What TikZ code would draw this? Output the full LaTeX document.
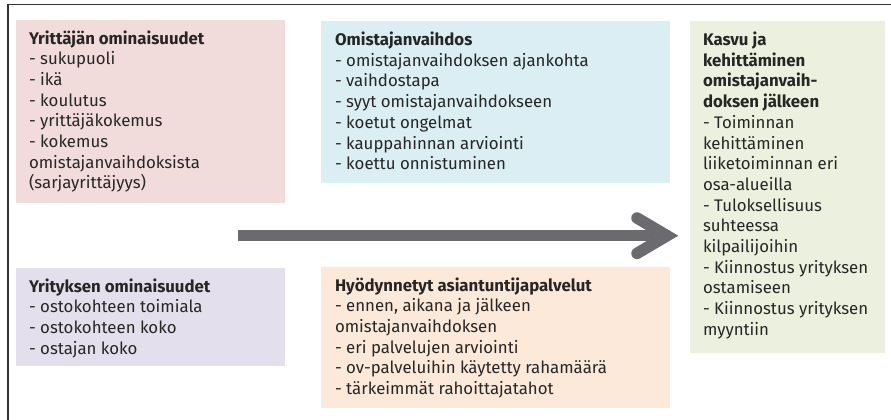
\documentclass[tikz,border=0pt]{standalone}
\usepackage{fontspec}
\setmainfont{Fira Sans}
\definecolor{cpink}{HTML}{F2DCDB}
\definecolor{cblue}{HTML}{DAEEF3}
\definecolor{cgreen}{HTML}{EBF1DE}
\definecolor{cpurple}{HTML}{E4DFEC}
\definecolor{corange}{HTML}{FDE9D9}
\definecolor{carrow}{HTML}{6B6B6F}
\definecolor{ctext}{HTML}{262626}
\definecolor{cframe}{HTML}{333333}
\tikzset{
  box/.style={draw=none, anchor=north west, inner sep=0pt, outer sep=0pt},
  txt/.style={anchor=base west, inner sep=0pt, outer sep=0pt, align=left, text=ctext,
    font=\fontsize{16.8}{20.7}\selectfont},
}
\begin{document}
\begin{tikzpicture}[x=1pt, y=-1pt]
\useasboundingbox (0,0) rectangle (891,420);
% frame
\draw[cframe, line width=1.5pt] (8,420) -- (8,4.5) -- (891,4.5);
% boxes
\node[box, fill=cpink, minimum width=269pt, minimum height=183pt] (pinkbox) at (16,20) {};
\node[box, fill=cblue, minimum width=349pt, minimum height=162pt] (bluebox) at (321,21) {};
\node[box, fill=cgreen, minimum width=195pt, minimum height=332pt] (greenbox) at (690,21) {};
\node[box, fill=cpurple, minimum width=269pt, minimum height=98pt] (purplebox) at (16,268) {};
\node[box, fill=corange, minimum width=349pt, minimum height=141pt] (orangebox) at (321,267) {};
% texts (anchored at the baseline of their last line)
\node[txt] (pinktxt) at (29,188.9) {\textbf{Yrittäjän ominaisuudet}\\- sukupuoli\\- ikä\\- koulutus\\- yrittäjäkokemus\\- kokemus\\omistajanvaihdoksista\\(sarjayrittäjyys)};
\node[txt] (bluetxt) at (335,169.7) {\textbf{Omistajanvaihdos}\\- omistajanvaihdoksen ajankohta\\- vaihdostapa\\- syyt omistajanvaihdokseen\\- koetut ongelmat\\- kauppahinnan arviointi\\- koettu onnistuminen};
\node[txt] (greentxt) at (703,335.3) {\textbf{Kasvu ja}\\\textbf{kehittäminen}\\\textbf{omistajanvaih-}\\\textbf{doksen jälkeen}\\- Toiminnan\\kehittäminen\\liiketoiminnan eri\\osa-alueilla\\- Tuloksellisuus\\suhteessa\\kilpailijoihin\\- Kiinnostus yrityksen\\ostamiseen\\- Kiinnostus yrityksen\\myyntiin};
\node[txt] (purpletxt) at (29,354.1) {\textbf{Yrityksen ominaisuudet}\\- ostokohteen toimiala\\- ostokohteen koko\\- ostajan koko};
\node[txt] (orangetxt) at (335,394.5) {\textbf{Hyödynnetyt asiantuntijapalvelut}\\- ennen, aikana ja jälkeen\\omistajanvaihdoksen\\- eri palvelujen arviointi\\- ov-palveluihin käytetty rahamäärä\\- tärkeimmät rahoittajatahot};
% arrow
\coordinate (ashaft) at (238,235.7);
\coordinate (aend) at (655,235.7);
\coordinate (atop) at (637,218);
\coordinate (avertex) at (667,235.7);
\coordinate (abot) at (637,253.4);
\draw[carrow, line width=11pt, line cap=butt] (ashaft) -- (aend);
\draw[carrow, line width=11.5pt, line cap=round, line join=miter] (atop) -- (avertex) -- (abot);
\end{tikzpicture}
\end{document}
